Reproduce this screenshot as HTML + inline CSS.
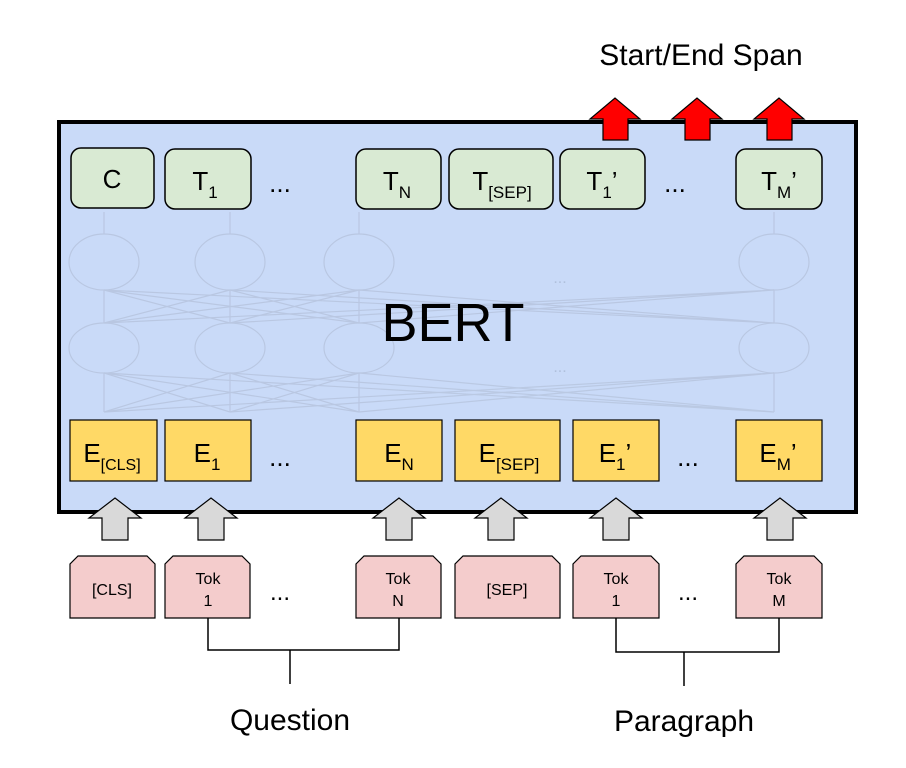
<!DOCTYPE html>
<html><head><meta charset="utf-8"><style>
html,body{margin:0;padding:0;background:#fff;}
svg{display:block;font-family:"Liberation Sans",Arial,sans-serif;}
</style></head><body>
<svg width="906" height="768" viewBox="0 0 906 768">
<rect x="59" y="122" width="797" height="390" fill="#c9daf8" stroke="#000" stroke-width="4"/>
<!-- faint network -->
<g stroke="#b8c6e0" stroke-width="1.2" fill="none" opacity="0.9">
<ellipse cx="104" cy="262" rx="35" ry="28"/><ellipse cx="230" cy="262" rx="35" ry="28"/><ellipse cx="359" cy="262" rx="35" ry="28"/><ellipse cx="774" cy="262" rx="35" ry="28"/>
<ellipse cx="104" cy="348" rx="35" ry="25"/><ellipse cx="230" cy="348" rx="35" ry="25"/><ellipse cx="359" cy="348" rx="35" ry="25"/><ellipse cx="774" cy="348" rx="35" ry="25"/>
<line x1="104" y1="234" x2="104" y2="212"/><line x1="230" y1="234" x2="230" y2="212"/><line x1="359" y1="234" x2="359" y2="212"/><line x1="774" y1="234" x2="774" y2="212"/>
<line x1="104" y1="323" x2="104" y2="290"/><line x1="230" y1="323" x2="230" y2="290"/><line x1="359" y1="323" x2="359" y2="290"/><line x1="774" y1="323" x2="774" y2="290"/>
<line x1="104" y1="412" x2="104" y2="373"/><line x1="230" y1="412" x2="230" y2="373"/><line x1="359" y1="412" x2="359" y2="373"/><line x1="774" y1="412" x2="774" y2="373"/>
<path d="M104 323L230 290M104 323L359 290M104 323L774 290M230 323L104 290M230 323L359 290M230 323L774 290M359 323L104 290M359 323L230 290M359 323L774 290M774 323L104 290M774 323L230 290M774 323L359 290"/>
<path d="M104 412L230 373M104 412L359 373M104 412L774 373M230 412L104 373M230 412L359 373M230 412L774 373M359 412L104 373M359 412L230 373M359 412L774 373M774 412L104 373M774 412L230 373M774 412L359 373"/>
</g>
<text x="560" y="283" font-size="16" fill="#b0c0dc" text-anchor="middle">...</text>
<text x="560" y="372" font-size="16" fill="#b0c0dc" text-anchor="middle">...</text>
<text x="453" y="341" font-size="54" text-anchor="middle">BERT</text>
<!-- green boxes -->
<g fill="#d9ead3" stroke="#000" stroke-width="1.5">
<rect x="71" y="148" width="83" height="60" rx="10"/><rect x="165" y="149" width="86" height="60" rx="10"/>
<rect x="356" y="149" width="85" height="60" rx="10"/><rect x="449" y="149" width="104" height="60" rx="10"/>
<rect x="560" y="149" width="85" height="60" rx="10"/><rect x="736" y="149" width="86" height="60" rx="10"/>
</g>
<g font-size="26" text-anchor="middle">
<text x="112" y="188">C</text>
<text x="205" y="190">T<tspan font-size="17" dy="8">1</tspan></text>
<text x="397" y="190">T<tspan font-size="17" dy="8">N</tspan></text>
<text x="502" y="190">T<tspan font-size="17" dy="8">[SEP]</tspan></text>
<text x="602" y="190">T<tspan font-size="17" dy="8">1</tspan><tspan dy="-8">’</tspan></text>
<text x="779" y="190">T<tspan font-size="17" dy="8">M</tspan><tspan dy="-8">’</tspan></text>
<text x="280" y="192">...</text><text x="675" y="192">...</text>
</g>
<!-- yellow boxes -->
<g fill="#ffd966" stroke="#000" stroke-width="1.2">
<rect x="70" y="420" width="87" height="61"/><rect x="165" y="420" width="86" height="61"/>
<rect x="356" y="420" width="86" height="61"/><rect x="455" y="420" width="105" height="61"/>
<rect x="573" y="420" width="86" height="61"/><rect x="736" y="420" width="86" height="61"/>
</g>
<g font-size="26" text-anchor="middle">
<text x="112" y="462">E<tspan font-size="16" dy="8">[CLS]</tspan></text>
<text x="207" y="462">E<tspan font-size="17" dy="8">1</tspan></text>
<text x="399" y="462">E<tspan font-size="17" dy="8">N</tspan></text>
<text x="509" y="462">E<tspan font-size="17" dy="8">[SEP]</tspan></text>
<text x="615" y="462">E<tspan font-size="17" dy="8">1</tspan><tspan dy="-8">’</tspan></text>
<text x="778" y="462">E<tspan font-size="17" dy="8">M</tspan><tspan dy="-8">’</tspan></text>
<text x="280" y="466">...</text><text x="688" y="466">...</text>
</g>
<!-- red arrows -->
<g fill="#ff0000" stroke="#000" stroke-width="1.2">
<path d="M603 140V119H590L615 98L640 119H628V140Z"/>
<path d="M685 140V119H672L697 98L722 119H710V140Z"/>
<path d="M767 140V119H754L779 98L804 119H792V140Z"/>
</g>
<text x="701" y="65" font-size="30" text-anchor="middle">Start/End Span</text>
<!-- gray arrows -->
<g fill="#d9d9d9" stroke="#000" stroke-width="1.2">
<path d="M102 540V518H89L115 498L141 518H128V540Z"/>
<path d="M198 540V518H185L211 498L237 518H224V540Z"/>
<path d="M386 540V518H373L399 498L425 518H412V540Z"/>
<path d="M488 540V518H475L501 498L527 518H514V540Z"/>
<path d="M603 540V518H590L616 498L642 518H629V540Z"/>
<path d="M767 540V518H754L780 498L806 518H793V540Z"/>
</g>
<!-- token boxes -->
<g fill="#f4cccc" stroke="#000" stroke-width="1.2">
<path d="M70 618V564L78 556H147L155 564V618Z"/>
<path d="M165 618V564L173 556H242L250 564V618Z"/>
<path d="M356 618V564L364 556H433L441 564V618Z"/>
<path d="M455 618V564L463 556H552L560 564V618Z"/>
<path d="M573 618V564L581 556H651L659 564V618Z"/>
<path d="M736 618V564L744 556H814L822 564V618Z"/>
</g>
<g font-size="16" text-anchor="middle">
<text x="112" y="595">[CLS]</text>
<text x="208" y="584">Tok</text><text x="208" y="606">1</text>
<text x="398" y="584">Tok</text><text x="398" y="606">N</text>
<text x="507" y="595">[SEP]</text>
<text x="616" y="584">Tok</text><text x="616" y="606">1</text>
<text x="779" y="584">Tok</text><text x="779" y="606">M</text>
</g>
<g font-size="24" text-anchor="middle"><text x="280" y="600">...</text><text x="688" y="600">...</text></g>
<g stroke="#000" stroke-width="1.5" fill="none">
<path d="M208 618V650H399V618M290 650V684"/>
<path d="M616 618V652H779V618M684 652V686"/>
</g>
<text x="290" y="730" font-size="30" text-anchor="middle">Question</text>
<text x="684" y="731" font-size="30" text-anchor="middle">Paragraph</text>
</svg>
</body></html>
